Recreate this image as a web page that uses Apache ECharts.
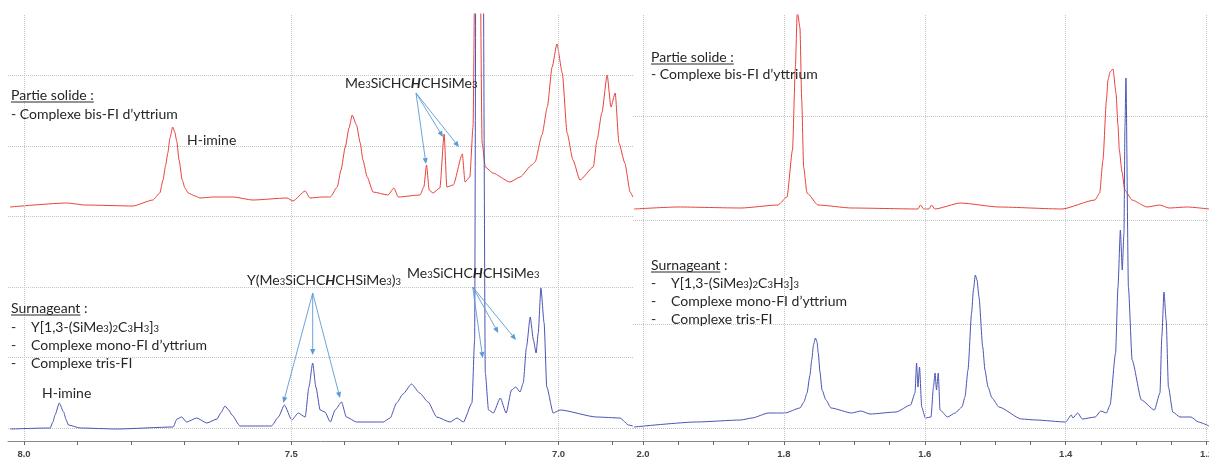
<!DOCTYPE html>
<html><head><meta charset="utf-8">
<script src="https://cdn.jsdelivr.net/npm/echarts@6/dist/echarts.min.js"></script>
<style>html,body{margin:0;padding:0;background:#fff}#c{width:1209px;height:457px}</style>
</head><body><div id="c"></div><script>
// ---------------- DATA ----------------
// Left panel (aromatic region, ppm) – red = "Partie solide", blue = "Surnageant"
const leftRedPpm = [8.026,7.920,7.886,7.796,7.759,7.746,7.740,7.735,7.731,7.727,7.722,7.718,7.714,7.710,7.704,7.699,7.693,7.680,7.671,7.646,7.609,7.572,7.508,7.497,7.474,7.465,7.442,7.427,7.414,7.407,7.399,7.392,7.386,7.378,7.371,7.366,7.358,7.347,7.319,7.308,7.300,7.259,7.252,7.247,7.242,7.235,7.222,7.214,7.209,7.197,7.180,7.175,7.166,7.160,7.154,7.149,7.143,7.137,7.123,7.091,7.072,7.050,7.044,7.031,7.021,7.012,7.003,6.993,6.984,6.973,6.960,6.935,6.928,6.919,6.909,6.902,6.894,6.887,6.876,6.866,6.861];
const leftRedInt = [3,7,5,4,10,17,30,45,57,72,83,78,68,50,30,22,17,14,12,13,13,10,12,9,19,12,13,13,23,40,63,82,95,85,67,50,33,18,15,22,13,15,23,45,20,17,22,76,23,25,56,28,33,83,400,400,67,43,37,28,33,45,48,75,103,143,166,137,77,50,30,43,70,97,135,103,117,67,47,18,13];

const leftBluePpm = [8.026,7.951,7.946,7.942,7.934,7.926,7.921,7.917,7.895,7.826,7.721,7.714,7.705,7.696,7.677,7.658,7.639,7.632,7.624,7.617,7.611,7.596,7.537,7.524,7.513,7.499,7.487,7.474,7.467,7.460,7.454,7.446,7.437,7.427,7.418,7.406,7.397,7.378,7.328,7.315,7.303,7.291,7.275,7.260,7.244,7.228,7.203,7.190,7.178,7.162,7.157,7.154,7.142,7.137,7.131,7.122,7.109,7.098,7.088,7.080,7.072,7.066,7.060,7.053,7.047,7.042,7.038,7.033,7.027,7.022,7.010,6.997,6.929,6.885,6.869,6.861];
const leftBlueInt = [1,2,8,15,27,18,10,5,2,1,3,11,13,8,12,7,11,17,24,20,15,4,4,13,25,10,17,13,43,67,43,20,18,8,20,28,13,8,8,12,27,36,46,37,28,13,8,12,8,27,90,600,600,57,20,17,32,17,40,43,38,47,83,113,90,77,97,142,107,43,17,20,13,12,5,4];

// Right panel (aliphatic region, ppm)
const rightRedPpm = [2.0128,1.9503,1.8609,1.8084,1.7956,1.7878,1.7837,1.7810,1.7772,1.7747,1.7720,1.7672,1.7516,1.7039,1.6097,1.6060,1.6017,1.5941,1.5902,1.5860,1.5493,1.4947,1.4053,1.3584,1.3518,1.3471,1.3422,1.3400,1.3371,1.3329,1.3286,1.3258,1.3239,1.3201,1.3161,1.3059,1.2846,1.2662,1.2534,1.2270,1.1966];
const rightRedInt = [1,3,2,5,13,60,143,200,182,110,43,17,5,2,1,5,1,1,5,1,7,3,1,10,17,50,110,130,138,141,117,85,60,38,20,10,3,5,2,3,1];

const rightBluePpm = [2.0128,1.9241,1.8612,1.8453,1.8219,1.7985,1.7772,1.7716,1.7672,1.7630,1.7605,1.7580,1.7553,1.7530,1.7512,1.7488,1.7459,1.7403,1.7332,1.7039,1.6909,1.6778,1.6409,1.6202,1.6139,1.6117,1.6097,1.6075,1.6044,1.5992,1.5912,1.5877,1.5855,1.5834,1.5809,1.5784,1.5677,1.5571,1.5472,1.5430,1.5387,1.5336,1.5310,1.5283,1.5259,1.5231,1.5178,1.5146,1.5103,1.5046,1.4947,1.4629,1.4422,1.4000,1.3921,1.3897,1.3831,1.3763,1.3580,1.3502,1.3422,1.3371,1.3292,1.3258,1.3224,1.3197,1.3173,1.3159,1.3145,1.3110,1.3057,1.2925,1.2741,1.2662,1.2636,1.2605,1.2574,1.2542,1.2480,1.2378,1.2222,1.2117,1.1966];
const rightBlueInt = [3,8,10,12,17,17,22,28,37,55,70,85,92,88,77,58,40,30,22,17,19,16,18,25,37,67,43,63,23,12,13,43,57,40,57,20,13,17,23,33,60,117,140,155,150,133,83,60,43,32,23,11,10,8,15,12,17,11,13,19,17,25,77,143,200,160,197,303,352,143,70,30,20,37,93,138,110,43,18,13,13,8,4];

// Axis ticks and labels
const leftTicks = [8.0,7.9,7.8,7.7,7.6,7.5,7.4,7.3,7.2,7.1,7.0,6.9];
const leftLabels = [8.0,7.5,7.0];
const rightTicks = [2.0,1.95,1.9,1.85,1.8,1.75,1.7,1.65,1.6,1.55,1.5,1.45,1.4,1.35,1.3,1.25,1.2];
const rightLabels = [2.0,1.8,1.6,1.4,1.2];

// ---------------- CHART ----------------
const RED = '#e8423e', BLUE = '#4a54b4', GRIDC = '#c4c4c4', ARROW = '#5b9bd5', TXT = '#262626';
const FONT = 'Lato', FS = 14;
const zip = (a, b) => a.map((v, i) => [v, b[i]]);

const chart = echarts.init(document.getElementById('c'), null, {renderer: 'canvas'});

const L = {min: 6.8607, max: 8.030}, R = {min: 1.1966, max: 2.0142};
const baseGrid = {outerBoundsMode: 'none', containLabel: false};
const grid = [
  {left: 8, width: 625, top: 14, height: 414},
  {left: 8, width: 625, top: 14, height: 206},
  {left: 8, width: 625, top: 14, height: 426},
  {left: 633, width: 576, top: 15, height: 413},
  {left: 633, width: 576, top: 15, height: 205},
  {left: 633, width: 576, top: 15, height: 425}
].map(g => Object.assign({}, baseGrid, g));

function hiddenX(gi, r) {
  return {gridIndex: gi, type: 'value', min: r.min, max: r.max, inverse: true, show: false};
}
function frameX(gi, r, ticks, labels) {
  return {
    gridIndex: gi, type: 'value', min: r.min, max: r.max, inverse: true, offset: 13,
    axisLine: {show: true, onZero: false, lineStyle: {color: '#8a8a8a', width: 1}},
    axisTick: {show: true, inside: false, length: 4, customValues: ticks, lineStyle: {color: '#6a6a6a'}},
    axisLabel: {show: true, customValues: labels, margin: 8, fontSize: 9.5, fontWeight: 'bold',
      fontFamily: 'Liberation Sans', color: '#444', formatter: v => Number(v).toFixed(1)},
    splitLine: {show: false}
  };
}
function frameY(gi, max) {
  return {gridIndex: gi, type: 'value', min: 0, max: max, interval: 1,
    axisLine: {show: false}, axisTick: {show: false}, axisLabel: {show: false},
    splitLine: {show: true, showMinLine: true, showMaxLine: false, lineStyle: {type: 'dotted', color: GRIDC, width: 1}}};
}
function dataY(gi, min, max) {
  return {gridIndex: gi, type: 'value', min: min, max: max, show: false, splitLine: {show: false}};
}

function spec(xi, color, data, vlines) {
  const s = {type: 'line', xAxisIndex: xi, yAxisIndex: xi, data: data, showSymbol: false, symbol: 'none',
    smooth: 0.2, smoothMonotone: 'x',
    silent: true, clip: true, animation: false, lineStyle: {color: color, width: 1}, z: color === BLUE ? 4 : 3};
  if (vlines) {
    s.markLine = {silent: true, symbol: 'none', animation: false, label: {show: false},
      lineStyle: {type: 'dotted', color: GRIDC, width: 1}, data: vlines.map(v => ({xAxis: v}))};
  }
  return s;
}

// ----- annotations -----
const ctx = document.createElement('canvas').getContext('2d');
function textW(s) { ctx.font = FS + 'px ' + FONT; return ctx.measureText(s).width; }
const RICH = {
  sub: {fontFamily: FONT, fontSize: 9.5, verticalAlign: 'bottom', fill: TXT, color: TXT},
  bi: {fontFamily: FONT, fontSize: FS, fontWeight: 'bold', fontStyle: 'italic', fill: TXT, color: TXT}
};
function T(x, y, s) {
  return {type: 'text', x: x, y: y, silent: true, z: 50,
    style: {text: s, fill: TXT, fontFamily: FONT, fontSize: FS, align: 'left', verticalAlign: 'middle',
      textAlign: 'left', textVerticalAlign: 'middle', rich: RICH}};
}
function U(x, y, s) {
  return {type: 'line', silent: true, z: 50, shape: {x1: x, y1: y, x2: x + textW(s), y2: y},
    style: {stroke: TXT, lineWidth: 1}};
}
function A(x1, y1, x2, y2) {
  const dx = x2 - x1, dy = y2 - y1, len = Math.hypot(dx, dy), ux = dx / len, uy = dy / len;
  const hl = 6, hw = 2.6, bx = x2 - ux * hl, by = y2 - uy * hl;
  return [
    {type: 'line', silent: true, z: 40, shape: {x1: x1, y1: y1, x2: bx, y2: by}, style: {stroke: ARROW, lineWidth: 0.9}},
    {type: 'polygon', silent: true, z: 40, shape: {points: [[x2, y2], [bx - uy * hw, by + ux * hw], [bx + uy * hw, by - ux * hw]]},
      style: {fill: ARROW}}
  ];
}
const F_ALLYL = 'Me{sub|3}SiCHC{bi|H}CHSiMe{sub|3}';
const F_Y = 'Y(Me{sub|3}SiCHC{bi|H}CHSiMe{sub|3}){sub|3}';
const F_YALLYL = 'Y[1,3-(SiMe{sub|3}){sub|2}C{sub|3}H{sub|3}]{sub|3}';

const graphics = [
  // left, solid part
  T(11, 95, 'Partie solide :'), U(11, 102, 'Partie solide :'),
  T(11, 114, '- Complexe bis-FI d’yttrium'),
  T(187, 140, 'H-imine'),
  T(345, 83, F_ALLYL),
  ...A(416, 93, 426, 164), ...A(416, 93, 443, 137), ...A(416, 93, 459, 147),
  // left, supernatant
  T(247, 280, F_Y),
  ...A(312.7, 293, 283.3, 403), ...A(312.7, 293, 312.7, 355), ...A(312.7, 293, 340, 398),
  T(407, 273, F_ALLYL),
  ...A(472.7, 287, 482.7, 358), ...A(472.7, 287, 498.3, 333), ...A(472.7, 287, 516, 340),
  T(11, 308, 'Surnageant :'), U(11, 315, 'Surnageant'),
  T(11, 327, '-'), T(31, 327, F_YALLYL),
  T(11, 345, '-'), T(31, 345, 'Complexe mono-FI d’yttrium'),
  T(11, 363, '-'), T(31, 363, 'Complexe tris-FI'),
  T(42, 393, 'H-imine'),
  // right panel
  T(651, 57, 'Partie solide :'), U(651, 64, 'Partie solide :'),
  T(651, 74, '- Complexe bis-FI d’yttrium'),
  T(651, 265, 'Surnageant :'), U(651, 272, 'Surnageant'),
  T(651, 283, '-'), T(671, 283, F_YALLYL),
  T(651, 301, '-'), T(671, 301, 'Complexe mono-FI d’yttrium'),
  T(651, 319, '-'), T(671, 319, 'Complexe tris-FI')
];

chart.setOption({
  animation: false,
  backgroundColor: '#ffffff',
  grid: grid,
  xAxis: [frameX(0, L, leftTicks, leftLabels), hiddenX(1, L), hiddenX(2, L),
          frameX(3, R, rightTicks, rightLabels), hiddenX(4, R), hiddenX(5, R)],
  yAxis: [frameY(0, 414 / 70.5), dataY(1, -10, 196), dataY(2, -10, 416),
          frameY(3, 413 / 104), dataY(4, -10, 195), dataY(5, -10, 415)],
  series: [
    spec(1, RED, zip(leftRedPpm, leftRedInt)),
    spec(2, BLUE, zip(leftBluePpm, leftBlueInt), leftLabels),
    spec(4, RED, zip(rightRedPpm, rightRedInt)),
    spec(5, BLUE, zip(rightBluePpm, rightBlueInt), rightLabels)
  ],
  graphic: graphics
});
</script></body></html>
